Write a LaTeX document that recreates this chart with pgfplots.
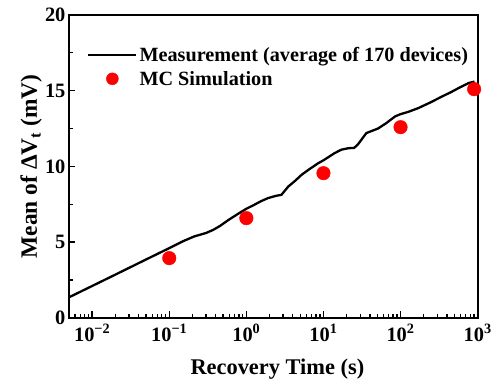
\documentclass[border=0pt]{standalone}
\usepackage{fontspec}
\setmainfont{Liberation Serif}
\usepackage{pgfplots}
\pgfplotsset{compat=1.18}

% Legend samples: a 48bp line, and a single dot at its middle
\pgfplotsset{
  lineleg/.style={legend image code/.code={\draw[##1] (-5bp,0bp) -- (43bp,0bp);}},
  dotleg/.style={legend image code/.code={\draw[##1, mark size=6bp] plot coordinates {(19bp,0bp)};}},
}

% Mean threshold-voltage shift during recovery
\pgfplotstableread{
t      dvt
0.005  1.35
0.01   2.10
0.02   2.85
0.05   3.85
0.1    4.60
0.15   5.05
0.21   5.37
0.3    5.60
0.37   5.80
0.45   6.05
0.59   6.47
0.8    6.90
1.0    7.20
1.2    7.40
1.55   7.70
1.9    7.90
2.4    8.05
2.85   8.12
3.5    8.67
4.3    9.05
5.2    9.44
6.5    9.80
8.5    10.20
10     10.40
13.9   10.87
17     11.10
21     11.20
25     11.22
28     11.45
32     11.85
36     12.20
51     12.50
65     12.85
85     13.30
100    13.45
126    13.60
170    13.85
250    14.25
340    14.60
450    14.90
560    15.16
760    15.50
910    15.60
}\measured

\pgfplotstableread{
t      dvt
0.1    3.94
1      6.58
10     9.55
100    12.59
900    15.10
}\simulated

\begin{document}
\begin{tikzpicture}
\begin{axis}[
  at={(0,0)}, anchor=south west,
  scale only axis, width=409bp, height=303bp,
  xmode=log, xmin=0.005, xmax=1000, ymin=0, ymax=20,
  xtick={0.01,0.1,1,10,100,1000},
  xticklabels={10\textsuperscript{−2},10\textsuperscript{−1},10\textsuperscript{0},10\textsuperscript{1},10\textsuperscript{2},10\textsuperscript{3}},
  minor xtick={0.006,0.007,0.008,0.009,
    0.02,0.03,0.04,0.05,0.06,0.07,0.08,0.09,
    0.2,0.3,0.4,0.5,0.6,0.7,0.8,0.9,
    2,3,4,5,6,7,8,9,
    20,30,40,50,60,70,80,90,
    200,300,400,500,600,700,800,900},
  ytick={0,5,10,15,20}, minor y tick num=1,
  xtick pos=bottom, ytick pos=left, tick align=inside,
  major tick length=6.5bp, minor tick length=4bp,
  axis line style={draw=black, line width=1.8bp},
  every major tick/.append style={draw=black, line width=1.5bp},
  every minor tick/.append style={draw=black, line width=1.3bp},
  /pgf/number format/assume math mode=true,
  ticklabel style={font=\fontsize{20.5}{20.5}\selectfont\bfseries},
  xticklabel style={yshift=-3bp},
  xlabel={Recovery Time (s)},
  ylabel={Mean of ΔV\textsubscript{t} (mV)},
  xlabel style={font=\fontsize{22.5}{22.5}\selectfont\bfseries,
    at={(axis description cs:0.51,-0.188)}, anchor=base},
  ylabel style={font=\fontsize{23.5}{23.5}\selectfont\bfseries,
    at={(axis description cs:-0.0782,0.50)}, anchor=base},
  legend style={draw=none, fill=none, at={(axis description cs:0.037,0.907)}, anchor=north west,
    font=\fontsize{20.3}{24}\selectfont\bfseries, row sep=4bp},
  legend cell align=left,
]
\addplot[black, line width=2.3bp, lineleg]
  table[x=t, y=dvt] {\measured};
\addlegendentry{Measurement (average of 170 devices)}
\addplot[only marks, mark=*, mark size=6.8bp, red, mark options={draw=red, fill=red}, dotleg]
  table[x=t, y=dvt] {\simulated};
\addlegendentry{MC Simulation}
\end{axis}
% page extent around the axis box
\path (-69bp,-63bp) rectangle (426bp,318bp);
\end{tikzpicture}
\end{document}
